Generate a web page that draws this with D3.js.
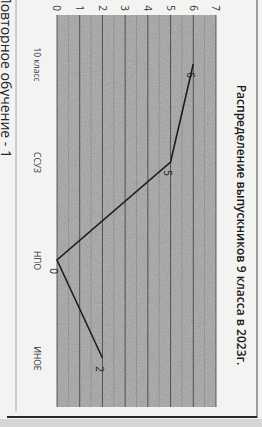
<!DOCTYPE html>
<html><head><meta charset="utf-8">
<script src="https://cdn.jsdelivr.net/npm/d3@7"></script>
<style>html,body{margin:0;padding:0;background:#f3f3f1;}svg{display:block;}</style>
</head><body>
<script>
const categories = ["10 класс", "ССУЗ", "НПО", "ИНОЕ"];
const values = [6, 5, 0, 2];
const valueTicks = [0, 1, 2, 3, 4, 5, 6, 7];
const titleText = "Распределение выпускников 9 класса в 2023г.";
const sideText = "Повторное обучение - 1";

const W = 262, H = 427;
const svg = d3.select("body").append("svg").attr("width", W).attr("height", H);
const defs = svg.append("defs");
const f = defs.append("filter").attr("id", "noise")
  .attr("x", 0).attr("y", 0).attr("width", 1).attr("height", 1);
f.append("feTurbulence").attr("type", "fractalNoise").attr("baseFrequency", 0.9).attr("numOctaves", 2).attr("seed", 3);
f.append("feColorMatrix").attr("type", "saturate").attr("values", 0);

svg.append("rect").attr("width", W).attr("height", H).attr("fill", "#f3f3f1");
svg.append("rect").attr("x", 0).attr("y", 419).attr("width", W).attr("height", 8).attr("fill", "#d6d6d4");

// chart drawn in its original orientation, then rotated 90deg clockwise
const g = svg.append("g").attr("transform", `translate(${W},0) rotate(90)`);

const x = d3.scalePoint().domain(categories).range([15, 407]).padding(0.5);
const y = d3.scaleLinear().domain([0, 7]).range([205, 46]);

const px0 = 15, px1 = 407;
g.append("rect").attr("x", px0).attr("y", y(7)).attr("width", px1 - px0).attr("height", y(0) - y(7))
  .attr("fill", "#a2a2a2");
g.append("rect").attr("x", px0).attr("y", y(7)).attr("width", px1 - px0).attr("height", y(0) - y(7))
  .attr("filter", "url(#noise)").attr("opacity", 0.5);

// faint minor grid
const minor = d3.range(0, 7.01, 0.5).filter(v => v % 1 !== 0);
g.selectAll("line.minor").data(minor).join("line").attr("class", "minor")
  .attr("x1", px0).attr("x2", px1).attr("y1", d => y(d)).attr("y2", d => y(d))
  .attr("stroke", "#6d6d6d").attr("stroke-width", 0.6).attr("opacity", 0.6);

// major gridlines
g.selectAll("line.grid").data(valueTicks).join("line").attr("class", "grid")
  .attr("x1", px0).attr("x2", px1).attr("y1", d => y(d)).attr("y2", d => y(d))
  .attr("stroke", "#3a3a3a").attr("stroke-width", 1).attr("opacity", 0.8);

// value axis (appears at top after rotation)
const ya = g.append("g").attr("transform", `translate(${px0},0)`)
  .call(d3.axisLeft(y).tickValues(valueTicks).tickFormat(d3.format("d")).tickSize(0).tickPadding(4));
ya.select(".domain").remove();
ya.selectAll("text").attr("font-family", "Open Sans, sans-serif").attr("font-size", 10).attr("fill", "#333");

// category axis (appears at left after rotation)
const xa = g.append("g").attr("transform", `translate(0,${y(0)})`)
  .call(d3.axisBottom(x).tickSize(0).tickPadding(17));
xa.select(".domain").remove();
xa.selectAll("text").attr("font-family", "Open Sans, sans-serif").attr("font-size", 8.5).attr("fill", "#333");

// line
const line = d3.line().x((d, i) => x(categories[i])).y(d => y(d));
g.append("path").datum(values).attr("d", line).attr("fill", "none")
  .attr("stroke", "#1e1e1e").attr("stroke-width", 1.6);

// data labels
g.selectAll("text.lbl").data(values).join("text").attr("class", "lbl")
  .attr("x", (d, i) => x(categories[i]) + 11).attr("y", d => y(d) + 4)
  .attr("text-anchor", "middle").attr("dominant-baseline", "middle")
  .attr("font-family", "Open Sans, sans-serif").attr("font-size", 10).attr("fill", "#222")
  .text(d => d);

// title
g.append("text").attr("x", 225).attr("y", 22).attr("text-anchor", "middle").attr("dominant-baseline", "middle")
  .attr("font-family", "Open Sans, sans-serif").attr("font-size", 12).attr("font-weight", 600).attr("fill", "#1a1a1a")
  .text(titleText);

// text below the chart frame (partly outside the photo in the reference)
g.append("text").attr("x", 158).attr("y", 261).attr("text-anchor", "end")
  .attr("font-family", "Open Sans, sans-serif").attr("font-size", 14).attr("fill", "#222")
  .text(sideText);

// frame lines
svg.append("line").attr("x1", 257).attr("x2", 257).attr("y1", 0).attr("y2", 418).attr("stroke", "#666").attr("stroke-width", 1.2);
svg.append("line").attr("x1", 7).attr("x2", 257).attr("y1", 417).attr("y2", 417).attr("stroke", "#2a2a2a").attr("stroke-width", 2);
svg.append("line").attr("x1", 16).attr("x2", 16).attr("y1", 0).attr("y2", 412).attr("stroke", "#aaa").attr("stroke-width", 1);
</script>
</body></html>
